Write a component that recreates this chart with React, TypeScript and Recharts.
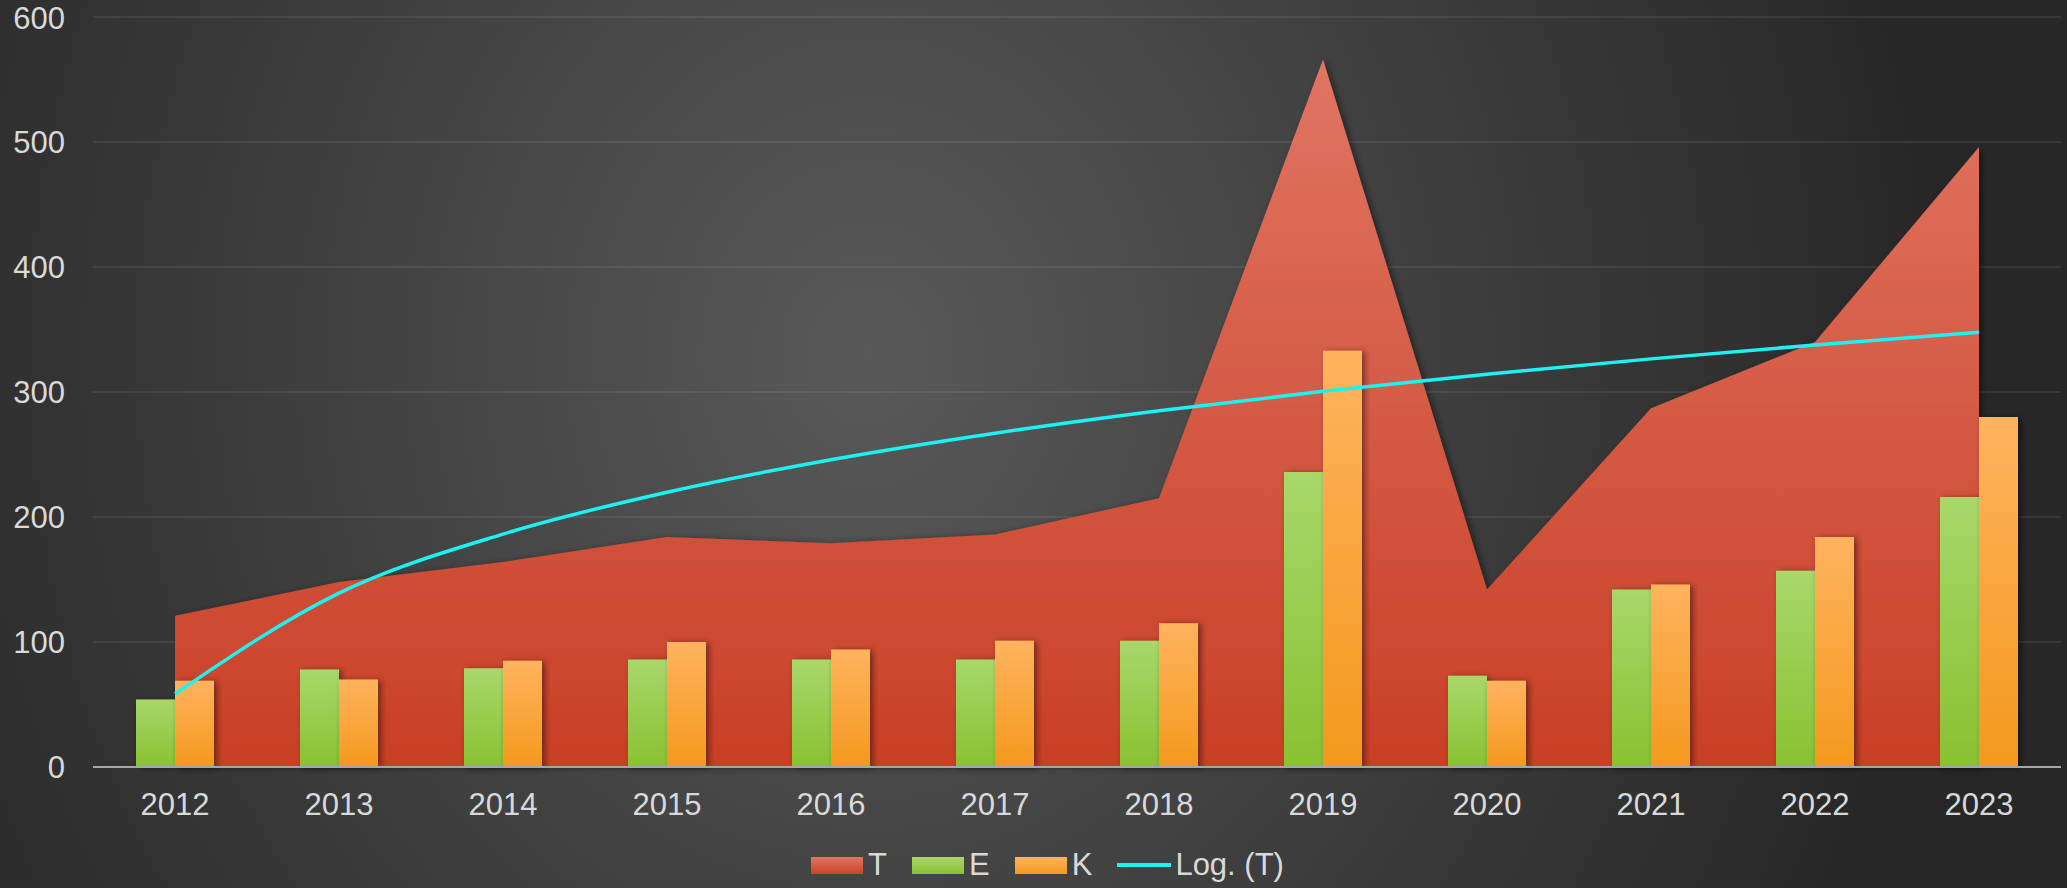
import { Area, Bar, CartesianGrid, ComposedChart, Legend, Line, XAxis, YAxis } from 'recharts'

const years = ['2012', '2013', '2014', '2015', '2016', '2017', '2018', '2019', '2020', '2021', '2022', '2023']
const tValues = [121, 148, 164, 184, 179, 186, 215, 566, 142, 287, 340, 496]
const eValues = [54, 78, 79, 86, 86, 86, 101, 236, 73, 142, 157, 216]
const kValues = [69, 70, 85, 100, 94, 101, 115, 333, 69, 146, 184, 280]
const yTicks = [0, 100, 200, 300, 400, 500, 600]

const FONT = '"Liberation Sans", Arial, sans-serif'
const TEXT = '#d9d9d9'

// log trendline, least squares fit of T against ln(x)
function logFit(values: number[]) {
  const xs = values.map((_, i) => Math.log(i + 1))
  const mx = xs.reduce((a, b) => a + b, 0) / xs.length
  const my = values.reduce((a, b) => a + b, 0) / values.length
  let sxy = 0
  let sxx = 0
  xs.forEach((x, i) => {
    sxy += (x - mx) * (values[i] - my)
    sxx += (x - mx) * (x - mx)
  })
  const a = sxy / sxx
  const b = my - a * mx
  return xs.map((x) => a * x + b)
}

const trend = logFit(tValues)

const data = years.map((year, i) => ({ year, T: tValues[i], E: eValues[i], K: kValues[i], trend: trend[i] }))

const legendItems = [
  { label: 'T', background: 'linear-gradient(#e07563, #cc4328)' },
  { label: 'E', background: 'linear-gradient(#a9d76b, #89c131)' },
  { label: 'K', background: 'linear-gradient(#ffb35e, #f3991d)' },
]

function ChartLegend() {
  return (
    <div style={{ display: 'flex', justifyContent: 'center', alignItems: 'center', height: 42, paddingLeft: 34, fontFamily: FONT, fontSize: 31, color: TEXT }}>
      {legendItems.map((item) => (
        <div key={item.label} style={{ display: 'flex', alignItems: 'center', marginRight: 25 }}>
          <span style={{ width: 52, height: 17, background: item.background, marginRight: 5 }} />
          <span>{item.label}</span>
        </div>
      ))}
      <div style={{ display: 'flex', alignItems: 'center' }}>
        <span style={{ width: 54, height: 4, background: '#1cf2f2', marginRight: 4 }} />
        <span>Log. (T)</span>
      </div>
    </div>
  )
}

export default function App() {
  return (
    <div
      style={{
        width: 2067,
        height: 888,
        background: 'radial-gradient(ellipse 52% 140% at 42% 40%, #595959 0%, #272727 100%)',
      }}
    >
      <style>{'body{margin:0}'}</style>
      <ComposedChart width={2067} height={888} data={data} margin={{ top: 17, right: 6, left: 0, bottom: 2 }} barGap={0} barSize={39}>
        <defs>
          <linearGradient id="gradT" x1="0" y1="0" x2="0" y2="1">
            <stop offset="0%" stopColor="#e07563" />
            <stop offset="100%" stopColor="#c93f26" />
          </linearGradient>
          <linearGradient id="gradE" x1="0" y1="0" x2="0" y2="1">
            <stop offset="0%" stopColor="#a9d76b" />
            <stop offset="100%" stopColor="#89c131" />
          </linearGradient>
          <linearGradient id="gradK" x1="0" y1="0" x2="0" y2="1">
            <stop offset="0%" stopColor="#ffb35e" />
            <stop offset="100%" stopColor="#f3991d" />
          </linearGradient>
          <filter id="shadow" x="-20%" y="-20%" width="140%" height="140%">
            <feDropShadow dx="3" dy="1" stdDeviation="3" floodColor="#000" floodOpacity="0.45" />
          </filter>
        </defs>
        <CartesianGrid vertical={false} stroke="#ffffff" strokeOpacity={0.1} strokeWidth={1.5} />
        <XAxis
          dataKey="year"
          height={77}
          tickLine={false}
          tickSize={0}
          tickMargin={26}
          axisLine={{ stroke: '#a6a6a6', strokeWidth: 2 }}
          tick={{ fill: TEXT, fontSize: 31, fontFamily: FONT }}
        />
        <YAxis
          width={93}
          domain={[0, 600]}
          ticks={yTicks}
          axisLine={false}
          tickLine={false}
          tickSize={0}
          tickMargin={28}
          tick={{ fill: TEXT, fontSize: 31, fontFamily: FONT }}
        />
        <Legend verticalAlign="bottom" content={() => <ChartLegend />} />
        <Area type="linear" dataKey="T" stroke="none" fill="url(#gradT)" fillOpacity={1} filter="url(#shadow)" isAnimationActive={false} />
        <Bar dataKey="E" fill="url(#gradE)" filter="url(#shadow)" isAnimationActive={false} />
        <Bar dataKey="K" fill="url(#gradK)" filter="url(#shadow)" isAnimationActive={false} />
        <Line type="monotone" dataKey="trend" stroke="#1cf2f2" strokeWidth={3.5} dot={false} isAnimationActive={false} />
      </ComposedChart>
    </div>
  )
}
